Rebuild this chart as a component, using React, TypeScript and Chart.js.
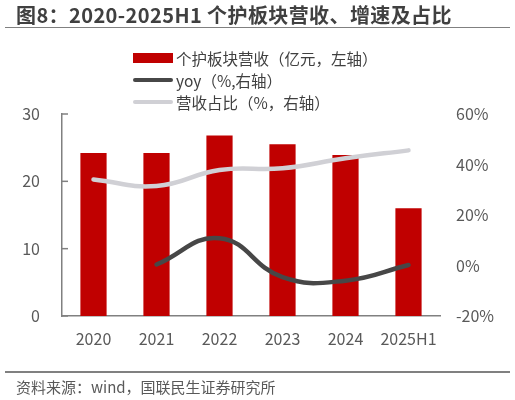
import { useEffect, useRef } from "react"
import { Chart, registerables, type ChartConfiguration, type Plugin } from "chart.js"

Chart.register(...registerables)

const years = ["2020", "2021", "2022", "2023", "2024", "2025H1"]
const revenue = [24.2, 24.2, 26.8, 25.5, 23.9, 16.0]
const yoy = [null, 0.4, 10.8, -4.6, -6.0, 0.2]
const share = [34.1, 31.5, 37.8, 38.5, 42.5, 45.6]
const leftTicks = [0, 10, 20, 30]
const rightTicks = [-20, 0, 20, 40, 60]

const title = "图8：2020-2025H1 个护板块营收、增速及占比"
const source = "资料来源：wind，国联民生证券研究所"
const legendItems = [
  { label: "个护板块营收（亿元，左轴）", kind: "bar", color: "#C00000" },
  { label: "yoy（%,右轴）", kind: "line", color: "#474747" },
  { label: "营收占比（%，右轴）", kind: "line", color: "#D0D0D5" },
]

const FONT = "'Noto Sans CJK SC', 'Noto Sans', sans-serif"
const AXIS = "#808080"
const TEXT = "#595959"

// small ticks pointing into the plot on the left axis
const innerTicks: Plugin = {
  id: "innerTicks",
  afterDraw(chart) {
    const y = chart.scales.y
    const ctx = chart.ctx
    ctx.save()
    ctx.strokeStyle = AXIS
    ctx.lineWidth = 1.5
    y.ticks.forEach((t) => {
      const py = y.getPixelForValue(t.value)
      ctx.beginPath()
      ctx.moveTo(y.right, py)
      ctx.lineTo(y.right + 6, py)
      ctx.stroke()
    })
    ctx.restore()
  },
}

export default function App() {
  const chartRef = useRef<HTMLCanvasElement>(null)
  const chartInstance = useRef<Chart | null>(null)

  useEffect(() => {
    if (!chartRef.current) return
    const ctx = chartRef.current.getContext("2d")
    if (!ctx) return
    if (chartInstance.current) chartInstance.current.destroy()

    const config: ChartConfiguration = {
      type: "bar",
      data: {
        labels: years,
        datasets: [
          {
            type: "line",
            label: legendItems[1].label,
            data: yoy,
            yAxisID: "y1",
            borderColor: legendItems[1].color,
            borderWidth: 4.5,
            tension: 0.45,
            pointRadius: 0,
            borderCapStyle: "round",
            order: 1,
          },
          {
            type: "line",
            label: legendItems[2].label,
            data: share,
            yAxisID: "y1",
            borderColor: legendItems[2].color,
            borderWidth: 4.5,
            tension: 0.45,
            pointRadius: 0,
            borderCapStyle: "round",
            order: 1,
          },
          {
            type: "bar",
            label: legendItems[0].label,
            data: revenue,
            yAxisID: "y",
            backgroundColor: legendItems[0].color,
            categoryPercentage: 0.8,
            barPercentage: 0.52,
            order: 2,
          },
        ],
      } as any,
      options: {
        responsive: false,
        animation: false,
        layout: { padding: { top: 114, left: 0, right: 0, bottom: 0 } },
        scales: {
          x: {
            grid: { display: false, drawTicks: false },
            border: { display: true, color: AXIS, width: 1.5 },
            ticks: { color: TEXT, font: { family: FONT, size: 16 }, padding: 13 },
            afterFit: (s: any) => {
              s.height = 84
            },
          },
          y: {
            position: "left",
            min: 0,
            max: 30,
            afterBuildTicks: (s: any) => {
              s.ticks = leftTicks.map((v) => ({ value: v }))
            },
            grid: { display: false, drawTicks: false },
            border: { display: true, color: AXIS, width: 1.5 },
            ticks: { color: TEXT, font: { family: FONT, size: 16 }, padding: 22 },
            afterFit: (s: any) => {
              s.width = 62
            },
          },
          y1: {
            position: "right",
            min: -20,
            max: 60,
            afterBuildTicks: (s: any) => {
              s.ticks = rightTicks.map((v) => ({ value: v }))
            },
            grid: { display: false, drawTicks: false },
            border: { display: false },
            ticks: {
              color: TEXT,
              font: { family: FONT, size: 16 },
              padding: 16,
              callback: (v: any) => `${v}%`,
            },
            afterFit: (s: any) => {
              s.width = 75
            },
          },
        },
        plugins: {
          legend: { display: false },
          tooltip: { enabled: false },
        },
      },
      plugins: [innerTicks],
    }

    chartInstance.current = new Chart(ctx, config)
    return () => {
      if (chartInstance.current) {
        chartInstance.current.destroy()
        chartInstance.current = null
      }
    }
  }, [])

  return (
    <div
      style={{
        position: "fixed",
        left: 0,
        top: 0,
        width: 515,
        height: 400,
        background: "#fff",
        fontFamily: FONT,
        overflow: "hidden",
      }}
    >
      <canvas
        ref={chartRef}
        width={515}
        height={400}
        style={{ position: "absolute", left: 0, top: 0, width: 515, height: 400 }}
      />
      <div
        style={{
          position: "absolute",
          left: 16,
          top: 5,
          fontSize: 20,
          lineHeight: "20px",
          fontWeight: 700,
          color: "#404040",
          whiteSpace: "nowrap",
          letterSpacing: 0.4,
        }}
      >
        {title}
      </div>
      <div style={{ position: "absolute", left: 5, top: 26.5, width: 505, height: 1.5, background: AXIS }} />
      {legendItems.map((item, i) => (
        <div
          key={item.label}
          style={{
            position: "absolute",
            left: 133,
            top: 58 + i * 22 - 10,
            height: 20,
            display: "flex",
            alignItems: "center",
            whiteSpace: "nowrap",
          }}
        >
          <span
            style={{
              display: "inline-block",
              width: 40,
              height: item.kind === "bar" ? 10 : 4.5,
              borderRadius: item.kind === "bar" ? 0 : 3,
              background: item.color,
              marginRight: 3,
            }}
          />
          <span style={{ fontSize: 15.5, lineHeight: "20px", color: "#404040" }}>{item.label}</span>
        </div>
      ))}
      <div style={{ position: "absolute", left: 5, top: 371, width: 505, height: 1.5, background: AXIS }} />
      <div
        style={{
          position: "absolute",
          left: 16,
          top: 379,
          fontSize: 15,
          lineHeight: "16px",
          color: TEXT,
          whiteSpace: "nowrap",
        }}
      >
        {source}
      </div>
    </div>
  )
}
